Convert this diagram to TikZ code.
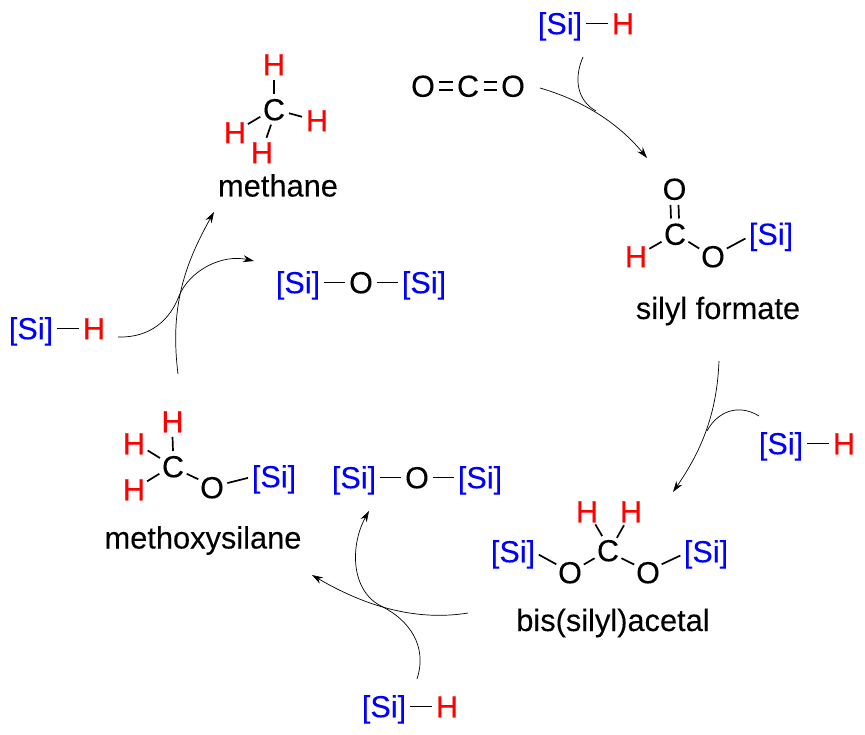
\documentclass[tikz,border=0pt]{standalone}
\usepackage{fontspec}
\setmainfont{Liberation Sans}
\newfontfamily\chemfont[FakeBold=0.12]{Liberation Sans}
\usetikzlibrary{arrows.meta}
\definecolor{siblue}{RGB}{0,0,255}
\definecolor{hred}{RGB}{255,0,0}
\tikzset{
  atomtext/.style={inner sep=0pt,outer sep=0pt,circle,text height=21.5pt,text depth=0pt,font=\fontsize{30.5}{30}\chemfont},
  hy/.style={atomtext,minimum size=28pt,text=hred},
  hv/.style={atomtext,minimum size=31pt,text=black},
  si/.style={atomtext,minimum size=52pt,text=siblue},
  bond/.style={draw=black,line width=1.7pt},
  name label/.style={anchor=base,inner sep=0pt,font=\fontsize{30.8}{31}\chemfont,text=black},
  rxn/.style={draw=black,line width=0.7pt},
  rxnarrow/.style={rxn,-{Stealth[length=11pt,width=7pt]}}
}
\newcommand{\SiText}{[Si]}
\begin{document}
\begin{tikzpicture}[x=1pt,y=-1pt]
\useasboundingbox (0,0) rectangle (865,735);
% top silane
\node[si] (s1) at (560,23.5) {\SiText};
\node[hy] (h1) at (623,23.5) {H};
\draw[bond] (s1.east) -- (h1.west);
% CO2
\node[hv] (co2a) at (423,86) {O};
\node[hv] (co2c) at (468,86) {C};
\node[hv] (co2b) at (513,86) {O};
\draw[bond] ([yshift=-4pt]co2a.east) -- ([yshift=-4pt]co2c.west);
\draw[bond] ([yshift=4pt]co2a.east) -- ([yshift=4pt]co2c.west);
\draw[bond] ([yshift=-4pt]co2c.east) -- ([yshift=-4pt]co2b.west);
\draw[bond] ([yshift=4pt]co2c.east) -- ([yshift=4pt]co2b.west);
% silyl formate
\node[hv] (fo1) at (674.5,189) {O};
\node[hv] (fc) at (675,234) {C};
\node[hy] (fh) at (636,256.5) {H};
\node[hv] (fo2) at (713,256.5) {O};
\node[si] (fs) at (771,234) {\SiText};
\draw[bond] ([xshift=-4pt]fo1.south) -- ([xshift=-4pt]fc.north);
\draw[bond] ([xshift=4pt]fo1.south) -- ([xshift=4pt]fc.north);
\draw[bond] (fc.210) -- (fh.30);
\draw[bond] (fc.330) -- (fo2.150);
\draw[bond] (fo2.30) -- (fs.190);
\node[name label] (lf) at (718,319) {silyl formate};
% right silane
\node[si] (s2) at (781,443.5) {\SiText};
\node[hy] (h2) at (844,443.5) {H};
\draw[bond] (s2.east) -- (h2.west);
% bis(silyl)acetal
\node[hy] (bh1) at (587,511.5) {H};
\node[hy] (bh2) at (631,511.5) {H};
\node[hv] (bc) at (608,550.5) {C};
\node[hv] (bo1) at (570,572.5) {O};
\node[hv] (bo2) at (648,572.5) {O};
\node[si] (bs1) at (513,551.5) {\SiText};
\node[si] (bs2) at (706,551.5) {\SiText};
\draw[bond] (bc.112) -- (bh1.303);
\draw[bond] (bc.55) -- (bh2.243);
\draw[bond] (bc.210) -- (bo1.30);
\draw[bond] (bc.330) -- (bo2.150);
\draw[bond] (bo1.149) -- (bs1.353);
\draw[bond] (bo2.31) -- (bs2.189);
\node[name label] (lb) at (613,631) {bis(silyl)acetal};
% bottom silane
\node[si] (s3) at (384,706.5) {\SiText};
\node[hy] (h3) at (447,706.5) {H};
\draw[bond] (s3.east) -- (h3.west);
% lower siloxane
\node[si] (x1a) at (354,477.5) {\SiText};
\node[hv] (x1o) at (417,477.5) {O};
\node[si] (x1b) at (480,477.5) {\SiText};
\draw[bond] (x1a.east) -- (x1o.west);
\draw[bond] (x1o.east) -- (x1b.west);
% methoxysilane
\node[hy] (mh1) at (172.5,421.5) {H};
\node[hy] (mh2) at (134,443.5) {H};
\node[hy] (mh3) at (134,489.5) {H};
\node[hv] (mc) at (173,466.5) {C};
\node[hv] (mo) at (212,487.5) {O};
\node[si] (ms) at (274,476.5) {\SiText};
\draw[bond] (mc.north) -- (mh1.south);
\draw[bond] (mc.147) -- (mh2.333);
\draw[bond] (mc.208) -- (mh3.32);
\draw[bond] (mc.332) -- (mo.149);
\draw[bond] (mo.16) -- (ms.183);
\node[name label] (lm) at (203,548.5) {methoxysilane};
% left silane
\node[si] (s4) at (31,328.5) {\SiText};
\node[hy] (h4) at (94,328.5) {H};
\draw[bond] (s4.east) -- (h4.west);
% upper siloxane
\node[si] (x2a) at (298,282.5) {\SiText};
\node[hv] (x2o) at (361,282.5) {O};
\node[si] (x2b) at (424,282.5) {\SiText};
\draw[bond] (x2a.east) -- (x2o.west);
\draw[bond] (x2o.east) -- (x2b.west);
% methane
\node[hv] (cc) at (274,109.5) {C};
\node[hy] (ch1) at (274,64.5) {H};
\node[hy] (ch2) at (317,120.5) {H};
\node[hy] (ch3) at (235,132.5) {H};
\node[hy] (ch4) at (262,152.5) {H};
\draw[bond] (cc.north) -- (ch1.south);
\draw[bond] (cc.-14) -- (ch2.166);
\draw[bond] (cc.208) -- (ch3.33);
\draw[bond] (cc.259) -- (ch4.73);
\node[name label] (lme) at (278,196.5) {methane};
% reaction arrows
\coordinate (a1s) at (540,88);
\coordinate (a1e) at (647,158);
\coordinate (a1m) at (596,111);
\coordinate (a1h) at (583,57);
\draw[rxnarrow] (a1s) .. controls (585,101) and (620,125) .. (a1e);
\draw[rxn] (a1h) .. controls (573,80) and (578,101) .. (a1m);
\coordinate (a2s) at (719,361);
\coordinate (a2e) at (673,492);
\coordinate (a2m) at (707,431);
\coordinate (a2h) at (759,416);
\draw[rxnarrow] (a2s) .. controls (717,410) and (704,447) .. (a2e);
\draw[rxn] (a2h) .. controls (738,403) and (717,412) .. (a2m);
\coordinate (a3s) at (468,613);
\coordinate (a3e) at (312,575);
\coordinate (a3m) at (383,607);
\coordinate (a3h) at (417,679);
\coordinate (a3f) at (369,511);
\draw[rxnarrow] (a3s) .. controls (425,620) and (375,612) .. (a3e);
\draw[rxnarrow] (a3h) .. controls (428,645) and (408,620) .. (a3m) .. controls (350,592) and (350,545) .. (a3f);
\coordinate (a4s) at (178,374);
\coordinate (a4e) at (214,212);
\coordinate (a4m) at (179,296);
\coordinate (a4h) at (118,337);
\coordinate (a4f) at (254,261);
\draw[rxnarrow] (a4s) .. controls (170,310) and (183,267) .. (a4e);
\draw[rxnarrow] (a4h) .. controls (150,338) and (170,320) .. (a4m) .. controls (190,270) and (222,254) .. (a4f);
\end{tikzpicture}
\end{document}
